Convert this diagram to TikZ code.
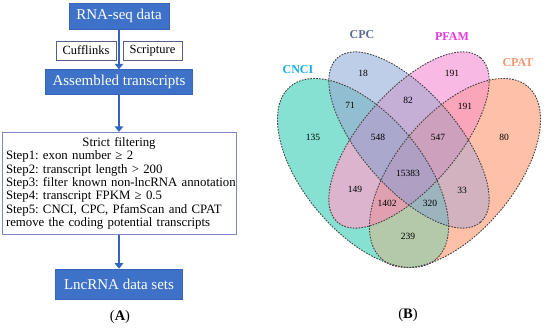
\documentclass[tikz,border=0pt]{standalone}
\usepackage{fontspec}
\setmainfont{Liberation Serif}
\usepackage{tikz}
\usetikzlibrary{positioning,arrows.meta}
\usepackage{xcolor}
\frenchspacing

% flow chart colours
\definecolor{flowblue}{RGB}{62,114,200}
\definecolor{flowedge}{RGB}{55,100,185}
\definecolor{arrowblue}{RGB}{50,100,195}
\definecolor{tooledge}{RGB}{85,95,140}
\definecolor{filteredge}{RGB}{125,135,195}

% venn region colours
\definecolor{vCnci}{RGB}{135,225,210}
\definecolor{vCpc}{RGB}{190,205,232}
\definecolor{vPfam}{RGB}{248,185,228}
\definecolor{vCpat}{RGB}{255,192,168}
\definecolor{vCnciCpc}{RGB}{145,190,208}
\definecolor{vCnciPfam}{RGB}{220,180,205}
\definecolor{vCnciCpat}{RGB}{180,200,170}
\definecolor{vCpcPfam}{RGB}{198,175,215}
\definecolor{vCpcCpat}{RGB}{210,178,190}
\definecolor{vPfamCpat}{RGB}{250,165,185}
\definecolor{vCnciCpcPfam}{RGB}{170,168,205}
\definecolor{vCnciCpcCpat}{RGB}{155,180,190}
\definecolor{vCnciPfamCpat}{RGB}{225,160,175}
\definecolor{vCpcPfamCpat}{RGB}{205,160,190}
\definecolor{vAll}{RGB}{175,160,195}

% venn label colours
\definecolor{tCnci}{RGB}{20,175,225}
\definecolor{tCpc}{RGB}{90,110,140}
\definecolor{tPfam}{RGB}{240,50,230}
\definecolor{tCpat}{RGB}{250,150,110}

% the four ellipses
\newcommand{\pcnci}{[rotate around={-50:(363,173)}] (363,173) ellipse (113 and 59)}
\newcommand{\pcpc}{[rotate around={-49:(409,140)}] (409,140) ellipse (109 and 48)}
\newcommand{\ppfam}{[rotate around={49:(409,140)}] (409,140) ellipse (109 and 48)}
\newcommand{\pcpat}{[rotate around={50:(455,173)}] (455,173) ellipse (113 and 59)}

\begin{document}
\begin{tikzpicture}[
    x=1pt, y=-1pt,
    bluebox/.style={rectangle, fill=flowblue, draw=flowedge, line width=0.6pt, text=white, inner sep=0pt, font=\fontsize{15}{17}\selectfont},
    toolbox/.style={rectangle, draw=tooledge, line width=0.8pt, fill=white, minimum width=59pt, minimum height=19pt, inner sep=0pt, font=\fontsize{12.5}{14}\selectfont},
    filterbox/.style={rectangle, draw=filteredge, line width=0.8pt, text width=226pt, minimum height=102pt, inner xsep=4pt, inner ysep=0pt, align=left, font=\fontsize{12.8}{13.3}\selectfont},
    arrow/.style={draw=arrowblue, line width=2.8pt, -{Triangle[length=5.5pt,width=8.5pt]}},
    setlabel/.style={font=\fontsize{12}{14}\selectfont\bfseries},
    count/.style={font=\fontsize{9.5}{11}\selectfont},
    outline/.style={draw=black!75, dash pattern=on 1.6pt off 1.3pt, line width=0.9pt},
    panel/.style={font=\fontsize{14.5}{16}\selectfont}
]
\useasboundingbox (0,0) rectangle (550,328);

% (A) flow chart
\node (rna) [bluebox, minimum width=100pt, minimum height=26pt] at (119,16) {RNA-seq data};
\node (cufflinks) [toolbox, minimum width=60pt] at (86,50.5) {Cufflinks};
\node (scripture) [toolbox] at (152.5,50.5) {Scripture};
\node (assembled) [bluebox, minimum width=147pt, minimum height=25pt, below=40pt of rna] {Assembled transcripts};
\node (filter) [filterbox, below=37pt of assembled] {\makebox[\hsize]{Strict filtering}\\
    Step1: exon number ≥ 2\\
    Step2: transcript length > 200\\
    \mbox{Step3: filter known non-lncRNA annotation}\\
    Step4: transcript FPKM ≥ 0.5\\
    Step5: CNCI, CPC, PfamScan and CPAT\\
    remove the coding potential transcripts};
\node (lnc) [bluebox, minimum width=127pt, minimum height=30pt, below=34pt of filter] {LncRNA data sets};

\draw [arrow] (rna) -- (assembled);
\draw [arrow] (assembled) -- (filter);
\draw [arrow] (filter) -- (lnc);

\node (pa) [panel] at (120,317) {(\textbf{A})};

% (B) venn diagram: singles, pairs, triples, all four
\fill [vCnci] \pcnci;
\fill [vCpat] \pcpat;
\fill [vCpc] \pcpc;
\fill [vPfam] \ppfam;

\begin{scope} \clip \pcnci; \fill [vCnciCpc] \pcpc; \end{scope}
\begin{scope} \clip \pcnci; \fill [vCnciPfam] \ppfam; \end{scope}
\begin{scope} \clip \pcnci; \fill [vCnciCpat] \pcpat; \end{scope}
\begin{scope} \clip \pcpc; \fill [vCpcPfam] \ppfam; \end{scope}
\begin{scope} \clip \pcpc; \fill [vCpcCpat] \pcpat; \end{scope}
\begin{scope} \clip \ppfam; \fill [vPfamCpat] \pcpat; \end{scope}

\begin{scope} \clip \pcnci; \clip \pcpc; \fill [vCnciCpcPfam] \ppfam; \end{scope}
\begin{scope} \clip \pcnci; \clip \pcpc; \fill [vCnciCpcCpat] \pcpat; \end{scope}
\begin{scope} \clip \pcnci; \clip \ppfam; \fill [vCnciPfamCpat] \pcpat; \end{scope}
\begin{scope} \clip \pcpc; \clip \ppfam; \fill [vCpcPfamCpat] \pcpat; \end{scope}

\begin{scope} \clip \pcnci; \clip \pcpc; \clip \ppfam; \fill [vAll] \pcpat; \end{scope}

\draw [outline] \pcnci;
\draw [outline] \pcpc;
\draw [outline] \ppfam;
\draw [outline] \pcpat;

% set names
\node (lcnci) [setlabel, text=tCnci] at (298,70) {CNCI};
\node (lcpc) [setlabel, text=tCpc] at (362,35) {CPC};
\node (lpfam) [setlabel, text=tPfam] at (452,37) {PFAM};
\node (lcpat) [setlabel, text=tCpat] at (518,63) {CPAT};

% counts
\node (n18) [count] at (363,73) {18};
\node (n191a) [count] at (452,73) {191};
\node (n71) [count] at (350,105) {71};
\node (n82) [count] at (408,100) {82};
\node (n191b) [count] at (465,106) {191};
\node (n135) [count] at (313,137) {135};
\node (n548) [count] at (378,137) {548};
\node (n547) [count] at (438,137) {547};
\node (n80) [count] at (504,137) {80};
\node (n15383) [count] at (408,173) {15383};
\node (n149) [count] at (355,189) {149};
\node (n33) [count] at (462,190) {33};
\node (n1402) [count] at (387,203) {1402};
\node (n320) [count] at (430,203) {320};
\node (n239) [count] at (408,236) {239};

\node (pb) [panel] at (408,315) {(\textbf{B})};

\end{tikzpicture}
\end{document}
